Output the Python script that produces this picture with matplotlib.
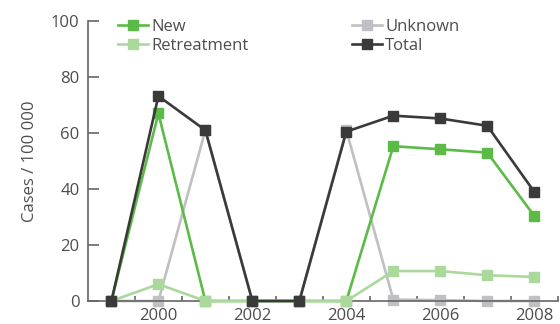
import numpy as np
import matplotlib
matplotlib.use("Agg")
import matplotlib.pyplot as plt
from matplotlib.ticker import MultipleLocator, FixedLocator

# data
years = [1999, 2000, 2001, 2002, 2003, 2004, 2005, 2006, 2007, 2008]
new = [0, 67, 0, 0, 0, 0, 55.3, 54.2, 53, 30.4]
retreatment = [0, 6, 0, 0, 0, 0, 10.7, 10.7, 9.2, 8.6]
unknown = [0, 0, 61, 0, 0, 61, 0.5, 0.3, 0, 0]
total = [0, 73.2, 61, 0, 0, 60.5, 66.2, 65.2, 62.6, 39]

c_new = '#5cbb46'
c_ret = '#aad99b'
c_unk = '#c0c0c4'
c_tot = '#3a3a3a'
c_txt = '#4d4d4d'

plt.rcParams['font.family'] = ['Open Sans', 'DejaVu Sans']

fig = plt.figure(figsize=(5.6, 3.24), dpi=100)
ax = fig.add_axes([0.157, 0.071, 0.839, 0.864])

kw = dict(marker='s', markersize=6.5, linewidth=1.9, clip_on=False)
ax.plot(years, unknown, color=c_unk, label='Unknown', zorder=2, **kw)
ax.plot(years, new, color=c_new, label='New', zorder=3, **kw)
ax.plot(years, retreatment, color=c_ret, label='Retreatment', zorder=4, **kw)
ax.plot(years, total, color=c_tot, label='Total', zorder=5, **kw)

ax.set_xlim(1998.5, 2008.5)
ax.set_ylim(0, 100)

for s in ['top', 'right']:
    ax.spines[s].set_visible(False)
for s in ['left', 'bottom']:
    ax.spines[s].set_color('#666666')
    ax.spines[s].set_linewidth(1.2)

ax.yaxis.set_major_locator(MultipleLocator(20))
ax.xaxis.set_major_locator(FixedLocator([2000, 2002, 2004, 2006, 2008]))
ax.xaxis.set_minor_locator(FixedLocator(np.arange(1999.5, 2009, 1)))
ax.tick_params(axis='y', direction='in', length=8, width=1.2, color='#666666',
               labelsize=12, labelcolor=c_txt, pad=6)
ax.tick_params(axis='x', which='major', length=0, labelsize=12, labelcolor=c_txt, pad=5)
ax.tick_params(axis='x', which='minor', direction='in', length=3.8, width=1.2, color='#666666')

ax.set_ylabel('Cases / 100 000', fontsize=12, color=c_txt, labelpad=9)

h, l = ax.get_legend_handles_labels()
order = [1, 2, 0, 3]
leg = ax.legend([h[i] for i in order], [l[i] for i in order], ncol=2,
                loc='upper left', bbox_to_anchor=(0.05, 1.03), frameon=False,
                fontsize=12, handlelength=1.8, handletextpad=0.2,
                columnspacing=6.2, labelspacing=0.15, borderaxespad=0)
for t in leg.get_texts():
    t.set_color(c_txt)

fig.savefig('out.png', dpi=100)
